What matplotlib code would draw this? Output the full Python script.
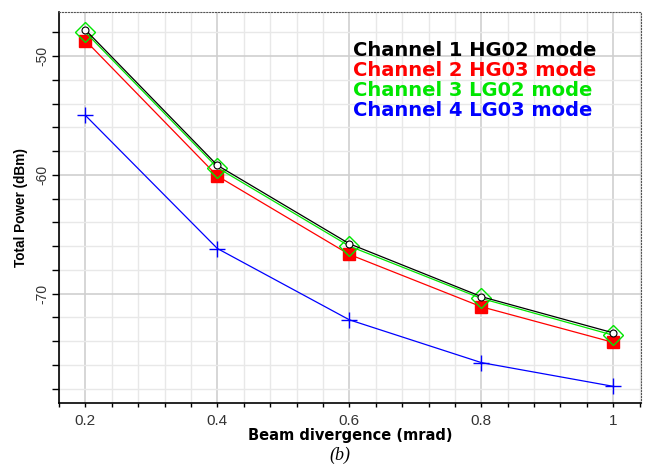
import matplotlib.pyplot as plt
from matplotlib.ticker import MultipleLocator

# beam divergence (mrad) and received power (dBm) per channel
divergence = [0.2, 0.4, 0.6, 0.8, 1.0]
ch1_hg02 = [-47.8, -59.2, -65.8, -70.25, -73.3]
ch2_hg03 = [-48.7, -60.1, -66.7, -71.1, -74.1]
ch3_lg02 = [-48.0, -59.4, -66.0, -70.4, -73.5]
ch4_lg03 = [-55.0, -66.2, -72.2, -75.8, -77.8]

labels = ["Channel 1 HG02 mode", "Channel 2 HG03 mode",
          "Channel 3 LG02 mode", "Channel 4 LG03 mode"]
colors = ["black", "#ff0000", "#00e600", "#0000ff"]

plt.rcParams["font.family"] = ["Liberation Sans", "DejaVu Sans"]
plt.rcParams["axes.unicode_minus"] = False
wide = ["DejaVu Sans"]

fig = plt.figure(figsize=(6.53, 4.65), dpi=100)
ax = fig.add_axes([59 / 653, 1 - 403 / 465, (641 - 59) / 653, (403 - 12) / 465])

ax.plot(divergence, ch4_lg03, color=colors[3], lw=0.9, marker="+", ms=12, mew=1.0, zorder=3)
ax.plot(divergence, ch2_hg03, color=colors[1], lw=0.9, marker="s", ms=8, mfc=colors[1], mec=colors[1], zorder=4)
ax.plot(divergence, ch3_lg02, color=colors[2], lw=0.9, marker="D", ms=10.5, mfc="none", mec=colors[2], mew=1.0, zorder=5)
ax.plot(divergence, ch1_hg02, color=colors[0], lw=0.9, marker="o", ms=5, mfc="white", mec="black", mew=0.8, zorder=6)

ax.set_xlim(0.16, 1.042)
ax.set_ylim(-79.2, -46.3)
ax.xaxis.set_minor_locator(MultipleLocator(0.04))
ax.yaxis.set_major_locator(MultipleLocator(10))
ax.yaxis.set_minor_locator(MultipleLocator(2))
ax.set_xticks(divergence)
ax.set_xticklabels(["0.2", "0.4", "0.6", "0.8", "1"])

ax.grid(which="major", color="#cfcfcf", lw=1.2)
ax.grid(which="minor", color="#e8e8e8", lw=1.0)
ax.set_axisbelow(True)

for side in ["top", "right"]:
    ax.spines[side].set_linestyle(":")
    ax.spines[side].set_color("#555555")
    ax.spines[side].set_linewidth(0.8)
ax.spines["left"].set_linewidth(1.2)
ax.spines["bottom"].set_linewidth(1.2)
ax.spines["bottom"].set_linestyle((0, (1, 1)))

ax.tick_params(axis="y", which="both", direction="out", length=5, width=1.0, labelsize=10,
               labelrotation=90, colors="black", labelcolor="#333333", pad=2)
ax.tick_params(axis="x", which="both", direction="out", length=3, width=1.0, labelsize=11,
               labelcolor="#333333", pad=5)
for t in ax.get_yticklabels():
    t.set_va("center")

ax.set_xlabel("Beam divergence (mrad)", fontsize=10.5, fontweight="bold", family=wide, labelpad=0)
ax.set_ylabel("Total Power (dBm)", fontsize=9.8, fontweight="bold", labelpad=5)

# channel legend as coloured text lines
for i, (lab, c) in enumerate(zip(labels, colors)):
    fig.text(353 / 653, 1 - (50 + 20.3 * i) / 465, lab, color=c, fontsize=14, fontweight="bold",
             family=wide, va="center", ha="left")

fig.text(340 / 653, 1 - 455 / 465, "(b)", fontsize=13, style="italic",
         family=["Liberation Serif", "DejaVu Serif"], ha="center", va="center")

fig.savefig("out.png", dpi=100)
